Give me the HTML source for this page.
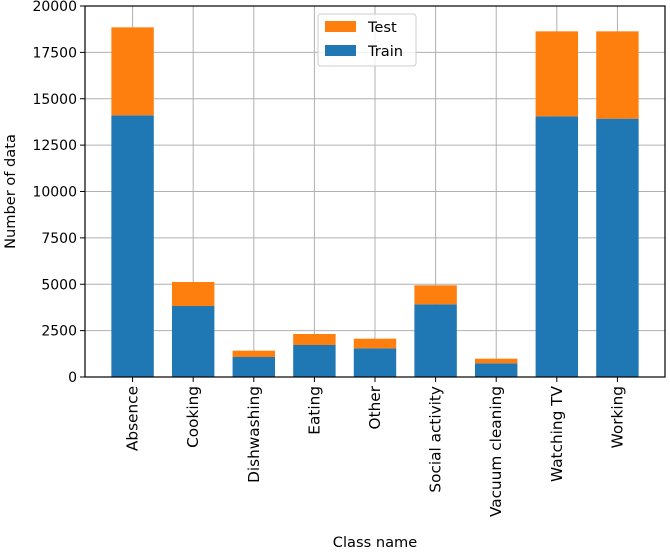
<!DOCTYPE html>
<html><head><meta charset="utf-8"><style>
body{margin:0;background:#fff}
text{font-family:"DejaVu Sans","Liberation Sans",sans-serif;fill:#000}
</style></head><body>
<svg id="chart" width="670" height="550" xmlns="http://www.w3.org/2000/svg"></svg>
<script>
const categories=["Absence","Cooking","Dishwashing","Eating","Other","Social activity","Vacuum cleaning","Watching TV","Working"];
const trainValues=[14106,3827,1078,1725,1545,3917,737,14052,13926];
const testValues=[4744,1294,342,593,521,1025,251,4582,4708];
const yTicks=[0,2500,5000,7500,10000,12500,15000,17500,20000];
const NS="http://www.w3.org/2000/svg";
const svg=document.getElementById('chart');
const L=85,R=665,T=6,B=377;
const xmin=-0.785,xmax=8.785;
const x=i=>L+(i-xmin)/(xmax-xmin)*(R-L);
const y=v=>B-v/20000*(B-T);
const bw=0.7*(R-L)/(xmax-xmin);
function el(tag,attrs,parent){const e=document.createElementNS(NS,tag);for(const k in attrs)e.setAttribute(k,attrs[k]);(parent||svg).appendChild(e);return e;}
const grid=el('g',{});


yTicks.forEach(v=>{el('line',{x1:L,x2:R,y1:y(v),y2:y(v),stroke:'#b0b0b0','stroke-width':1},grid);});
categories.forEach((c,i)=>{el('line',{x1:x(i),x2:x(i),y1:T,y2:B,stroke:'#b0b0b0','stroke-width':1},grid);});
categories.forEach((c,i)=>{
 const r1=el('rect',{x:x(i)-bw/2,y:y(trainValues[i]),width:bw,height:y(0)-y(trainValues[i]),fill:'#1f77b4'});
 
 
 const tot=trainValues[i]+testValues[i];
 const r2=el('rect',{x:x(i)-bw/2,y:y(tot),width:bw,height:y(trainValues[i])-y(tot),fill:'#ff7f0e'});
 
 
});
el('rect',{x:L,y:T,width:R-L,height:B-T,fill:'none',stroke:'#000','stroke-width':1.2});
yTicks.forEach(v=>{
 el('line',{x1:L-5,x2:L,y1:y(v),y2:y(v),stroke:'#000'});
 const t=el('text',{x:L-8,y:y(v)+5,'text-anchor':'end','font-size':14});
 t.textContent=v;
 
 
});
categories.forEach((c,i)=>{
 el('line',{x1:x(i),x2:x(i),y1:B,y2:B+5,stroke:'#000'});
 const t=el('text',{x:x(i)+5,y:B+9,'text-anchor':'end','font-size':15.3,transform:`rotate(-90 ${x(i)+5} ${B+9})`});
 t.textContent=c;
 
 
});
const xt=el('text',{x:(L+R)/2,y:547,'text-anchor':'middle','font-size':14.6});
xt.textContent='Class name';


const yt=el('text',{x:15,y:(T+B)/2,'text-anchor':'middle','font-size':14.6,transform:`rotate(-90 15 ${(T+B)/2})`});
yt.textContent='Number of data';


const lg=el('g',{});


el('rect',{x:318,y:14,width:98,height:52,rx:3,fill:'#fff','fill-opacity':0.8,stroke:'#ccc'},lg);
el('rect',{x:325,y:21,width:31,height:11,fill:'#ff7f0e'},lg);
el('rect',{x:325,y:45,width:31,height:11,fill:'#1f77b4'},lg);
const l1=el('text',{x:368,y:32,'font-size':14.6},lg);l1.textContent='Test';
const l2=el('text',{x:368,y:56,'font-size':14.6},lg);l2.textContent='Train';
</script>
</body></html>
